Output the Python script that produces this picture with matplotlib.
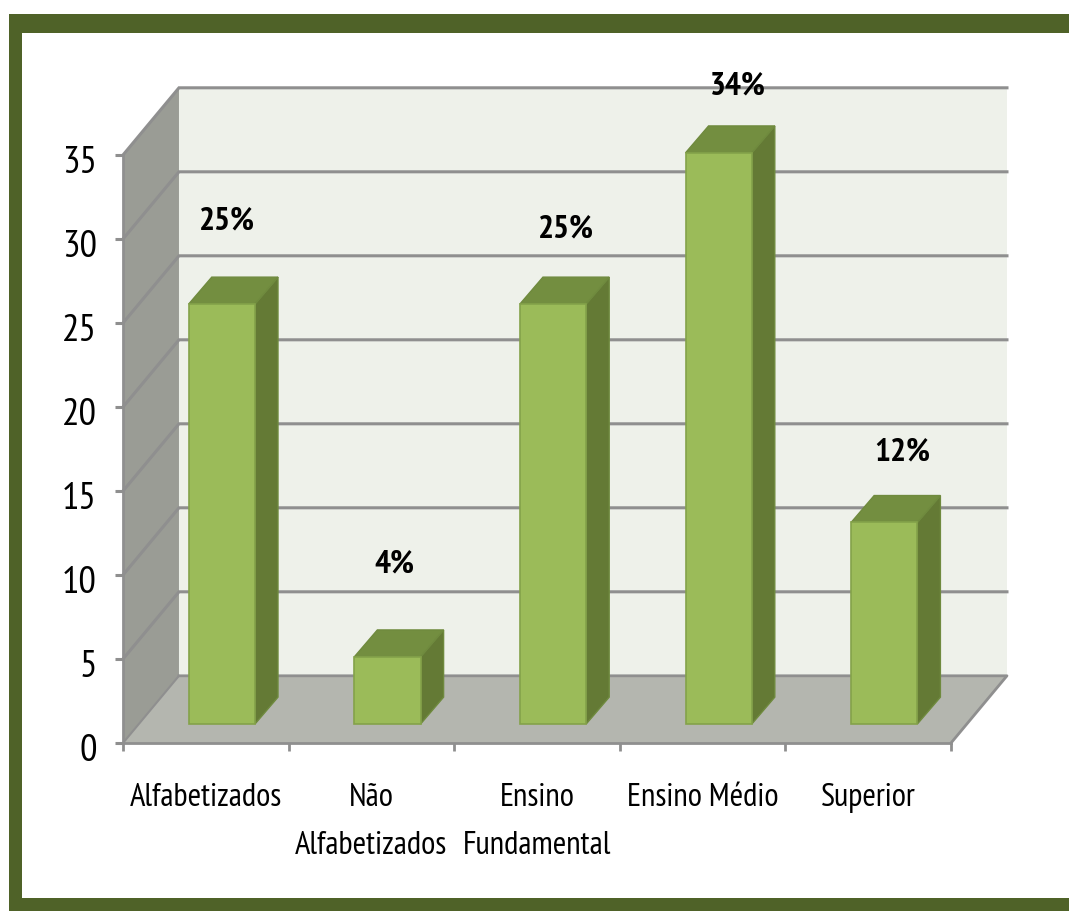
""" Escolaridade: 3D style column chart drawn on a flat axes """
import matplotlib
matplotlib.use('Agg')
import matplotlib.pyplot as plt
from matplotlib import font_manager
from matplotlib.patches import Polygon, Rectangle
from matplotlib.transforms import ScaledTranslation

categories = ['Alfabetizados', 'Não\nAlfabetizados', 'Ensino\nFundamental', 'Ensino Médio', 'Superior']
values = [25, 4, 25, 34, 12]
bar_labels = ['25%', '4%', '25%', '34%', '12%']
y_ticks = [0, 5, 10, 15, 20, 25, 30, 35]

W, H = 1069, 911
FRAME = '#4F6228'
GRID = '#8F8F8F'

# the narrow face is not always there, Roboto needs smaller sizes
installed = set(f.name for f in font_manager.fontManager.ttflist)
if 'PT Sans Narrow' in installed:
    FONT, SCALE = 'PT Sans Narrow', 1.0
else:
    FONT, SCALE = 'Roboto', 0.72

# room depth and bar placement, in data units
DEPTH_X, DEPTH_Y = 0.338, 4.0
BAR_X, BAR_Y = 0.097, 1.13
BAR_DX, BAR_DY = 0.139, 1.6
BAR_W = 0.4

# label shift from the bar front top, pixels
label_shift = [(5, 83), (7, 92), (13, 75), (19, 66), (18, 70)]

plt.rcParams['font.family'] = [FONT, 'DejaVu Sans']
fig = plt.figure(figsize=(W / 100, H / 100), dpi=100, facecolor='white')

# green frame, open on the right
for x0, y0, x1, y1 in [(9, 14, 22, 911), (9, 14, W, 33), (9, 898, W, 911)]:
    fig.add_artist(Rectangle((x0 / W, 1 - y1 / H), (x1 - x0) / W, (y1 - y0) / H,
                             transform=fig.transFigure, color=FRAME, lw=0))

ax = fig.add_axes([123 / W, 1 - 743 / H, 828 / W, 588 / H])
ax.patch.set_visible(False)
ax.set_xlim(0, len(categories))
ax.set_ylim(0, 35)
for name in ['top', 'right']:
    ax.spines[name].set_visible(False)
for name in ['left', 'bottom']:
    ax.spines[name].set_color(GRID)
    ax.spines[name].set_linewidth(2)
    ax.spines[name].set_zorder(4)

n = len(categories)
top = y_ticks[-1]

# walls and floor
ax.add_patch(Polygon([(DEPTH_X, DEPTH_Y), (n + DEPTH_X, DEPTH_Y), (n + DEPTH_X, top + DEPTH_Y), (DEPTH_X, top + DEPTH_Y)],
                     fc='#EEF1EA', ec='none', clip_on=False, zorder=1))
ax.add_patch(Polygon([(0, 0), (DEPTH_X, DEPTH_Y), (DEPTH_X, top + DEPTH_Y), (0, top)],
                     fc='#9A9C95', ec='none', clip_on=False, zorder=1))
ax.add_patch(Polygon([(0, 0), (n, 0), (n + DEPTH_X, DEPTH_Y), (DEPTH_X, DEPTH_Y)],
                     fc='#B4B6AF', ec='none', clip_on=False, zorder=1))
ax.plot([n, n + DEPTH_X, DEPTH_X], [0, DEPTH_Y, DEPTH_Y], color=GRID, lw=2, clip_on=False, zorder=2)

# grid on the back wall and the side wall
for v in y_ticks[1:]:
    ax.plot([0, DEPTH_X, n + DEPTH_X], [v, v + DEPTH_Y, v + DEPTH_Y],
            color=GRID, lw=2.2, clip_on=False, zorder=2, solid_joinstyle='miter')
ax.plot([0, DEPTH_X], [0, DEPTH_Y], color=GRID, lw=1.5, clip_on=False, zorder=2)

# bars
xs = [i + 0.5 + BAR_X for i in range(n)]
ax.bar(xs, values, width=BAR_W, bottom=BAR_Y, color='#9BBB59', edgecolor='#84A24A',
       linewidth=1.2, clip_on=False, zorder=5)
for x, v in zip(xs, values):
    l, r = x - BAR_W / 2, x + BAR_W / 2
    b, t = BAR_Y, BAR_Y + v
    ax.add_patch(Polygon([(r, b), (r + BAR_DX, b + BAR_DY), (r + BAR_DX, t + BAR_DY), (r, t)],
                         fc='#647A35', ec='#6F8A3E', lw=1, clip_on=False, zorder=4))
    ax.add_patch(Polygon([(l, t), (l + BAR_DX, t + BAR_DY), (r + BAR_DX, t + BAR_DY), (r, t)],
                         fc='#738E40', ec='#6F8A3E', lw=1, clip_on=False, zorder=4))

for x, v, txt, shift in zip(xs, values, bar_labels, label_shift):
    ax.annotate(txt, (x, BAR_Y + v), xytext=shift, textcoords='offset pixels', ha='center', va='center',
                fontsize=24 * SCALE, fontweight='bold', color='black', annotation_clip=False, zorder=6)

ax.set_yticks(y_ticks)
ax.set_xticks(range(n + 1))
ax.set_xticklabels([])
ax.set_xticks([i + 0.5 for i in range(n)], minor=True)
ax.set_xticklabels(categories, minor=True, linespacing=1.75, fontsize=23.5 * SCALE)
ax.tick_params(axis='x', which='major', length=6, width=2, color=GRID)
ax.tick_params(axis='x', which='minor', length=0, pad=29)
ax.tick_params(axis='y', length=6, width=2.2, color=GRID, pad=13, labelsize=28 * SCALE)

# value labels sit a little below their ticks in the original
down = ScaledTranslation(0, -3 / 72, fig.dpi_scale_trans)
for label in ax.get_yticklabels():
    label.set_transform(label.get_transform() + down)

fig.savefig('out.png', dpi=100)
